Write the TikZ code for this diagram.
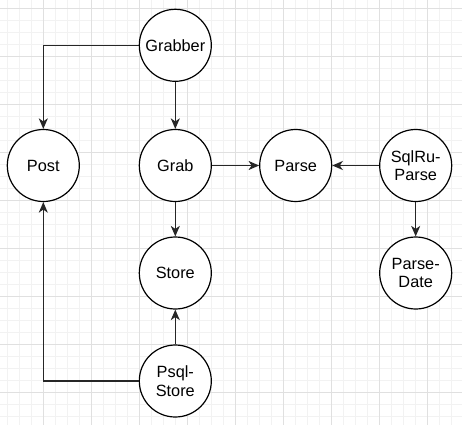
\documentclass[tikz,border=0pt]{standalone}
\usepackage{fontspec}
\setmainfont{Liberation Sans}
\usetikzlibrary{arrows.meta}
\definecolor{gridminor}{RGB}{242,242,242}
\definecolor{gridmajor}{RGB}{224,224,224}
\tikzset{
  proc/.style={circle, draw=black, line width=1.2pt, fill=white, minimum size=72pt, inner sep=0pt, align=center, font=\fontsize{16.3}{18.5}\selectfont},
  conn/.style={draw=black!85, line width=1.2pt, -{Stealth[length=10.5pt,width=9pt,inset=3pt]}},
}
\begin{document}
\begin{tikzpicture}[x=1pt,y=-1pt]
\useasboundingbox (0,0) rectangle (462,425);
\fill[white] (0,0) rectangle (462,425);
% grid
\foreach \k in {0,...,37} {\draw[gridminor, line width=1pt] ({7.3+12*\k},0) -- ({7.3+12*\k},425);}
\foreach \k in {0,...,34} {\draw[gridminor, line width=1pt] (0,{8.3+12*\k}) -- (462,{8.3+12*\k});}
\foreach \k in {0,...,8} {\draw[gridmajor, line width=1pt] ({43.3+48*\k},0) -- ({43.3+48*\k},425);}
\foreach \k in {0,...,8} {\draw[gridmajor, line width=1pt] (0,{8.3+48*\k}) -- (462,{8.3+48*\k});}
% nodes
\node[proc] (grabber) at (175.3,45.3) {Grabber};
\node[proc] (post) at (43.3,165.5) {Post};
\node[proc] (grab) at (175.3,165.5) {Grab};
\node[proc] (parse) at (295.7,165.5) {Parse};
\node[proc] (sqlru) at (415.7,165.5) {SqlRu-\\Parse};
\node[proc] (pdate) at (415.7,273) {Parse-\\Date};
\node[proc] (store) at (175.3,273) {Store};
\node[proc] (psql) at (175.3,381) {Psql-\\Store};
% connectors
\draw[conn] (grabber.west) -| (post.north);
\draw[conn] (grabber) -- (grab);
\draw[conn] (grab) -- (parse);
\draw[conn] (sqlru) -- (parse);
\draw[conn] (sqlru) -- (pdate);
\draw[conn] (grab) -- (store);
\draw[conn] (psql) -- (store);
\draw[conn] (psql.west) -| (post.south);
\end{tikzpicture}
\end{document}
